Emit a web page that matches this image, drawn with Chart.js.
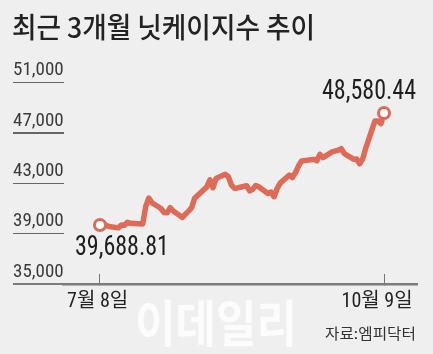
<!DOCTYPE html>
<html>
<head>
<meta charset="utf-8">
<script src="https://cdn.jsdelivr.net/npm/chart.js@4.4.1/dist/chart.umd.min.js"></script>
<style>
html, body { margin: 0; padding: 0; background: #efefef; }
#wrap { position: relative; width: 433px; height: 354px; overflow: hidden; }
#chart { position: absolute; left: 0; top: 0; }
.txt { position: absolute; white-space: nowrap; line-height: 1; transform-origin: 0 0; }
.rule { position: absolute; left: 13px; width: 51px; height: 1.5px; background: #666; }
.rule.base { height: 2.5px; background: #7b7b7b; }
#title { left: 12px; top: 6px; font: 500 28px 'Noto Sans CJK KR', sans-serif; color: #222; }
#mark { left: 135px; top: 284px; font: 700 50px 'Noto Sans CJK KR', sans-serif; color: rgba(255,255,255,0.8); }
#src { right: 17px; top: 322px; font: 400 15px 'Noto Sans CJK KR', sans-serif; color: #333; }
</style>
</head>
<body>
<div id="wrap">
  <canvas id="chart" width="433" height="354"></canvas>
  <div class="txt" id="mark">이데일리</div>
  <div class="txt" id="title">최근 3개월 닛케이지수 추이</div>
  <div class="txt" id="src">자료:엠피닥터</div>
</div>
<script>
const dates = [
'2025-07-08','2025-07-09','2025-07-10','2025-07-11','2025-07-14','2025-07-15','2025-07-16','2025-07-17','2025-07-18',
'2025-07-22','2025-07-23','2025-07-24','2025-07-25','2025-07-28','2025-07-29','2025-07-30','2025-07-31',
'2025-08-01','2025-08-04','2025-08-05','2025-08-06','2025-08-07','2025-08-08','2025-08-12','2025-08-13','2025-08-14','2025-08-15',
'2025-08-18','2025-08-19','2025-08-20','2025-08-21','2025-08-22','2025-08-25','2025-08-26','2025-08-27','2025-08-28','2025-08-29',
'2025-09-01','2025-09-02','2025-09-03','2025-09-04','2025-09-05','2025-09-08','2025-09-09','2025-09-10','2025-09-11','2025-09-12',
'2025-09-16','2025-09-17','2025-09-18','2025-09-19','2025-09-22','2025-09-24','2025-09-25','2025-09-26','2025-09-29','2025-09-30',
'2025-10-01','2025-10-02','2025-10-03','2025-10-06','2025-10-07','2025-10-08','2025-10-09'
];
const closes = [
39688.81,39821,39646,39569,39459,39678,39663,39901,39819,
39774,41171,41826,41456,40998,40674,40654,41069,
40799,40290,40549,40794,41059,41820,42718,43274,42649,43378,
43714,43546,42888,42610,42633,42807,42394,42520,42829,42718,
42188,42310,41938,42580,43018,43643,43459,43837,44372,44768,
44902,44790,45303,45045,45493,45630,45754,45354,44913,44932,
44550,44936,45769,47944,47950,47734,48580.44
];
const yTicks = [35000, 39000, 43000, 47000, 51000];
const xTickDates = ['2025-07-08', '2025-10-09'];
const xTickLabels = ['7월 8일 ', '10월 9일   '];

const day0 = Date.parse(dates[0]);
const toDay = d => Math.round((Date.parse(d) - day0) / 86400000);
const points = dates.map((d, i) => ({ x: toDay(d), y: closes[i] }));
const lastIdx = points.length - 1;

// find a narrow face among the installed fonts (missing ones fall back to monospace and lose)
function pickNarrow() {
  const c = document.createElement('canvas').getContext('2d');
  const opts = [
    ['', "'Liberation Sans Narrow'"], ['', "'Arial Narrow'"], ['', "'Roboto Condensed'"],
    ['condensed', "'Noto Sans'"], ['semi-condensed', "'Noto Sans'"], ['condensed', "'Open Sans'"],
    ['condensed', "'Roboto'"], ['condensed', "'DejaVu Sans'"], ['', "'Liberation Sans'"]
  ];
  let best = opts[opts.length - 1], bestErr = 1e9;
  for (const [st, fam] of opts) {
    c.font = (st ? st + ' ' : '') + '20px ' + fam + ', monospace';
    const r = c.measureText('51,000').width / 20;
    const err = Math.abs(r - 2.56);
    if (err < bestErr) { bestErr = err; best = [st, fam]; }
  }
  return best;
}
const [stretch, narrowFam] = pickNarrow();
const family = narrowFam + ", 'Noto Sans CJK KR', sans-serif";
const red = '#de6a57';

const endLabels = {
  id: 'endLabels',
  afterDatasetsDraw(chart) {
    const meta = chart.getDatasetMeta(0);
    const first = meta.data[0], last = meta.data[lastIdx];
    const fmt = v => v.toLocaleString('en-US', { minimumFractionDigits: 2, maximumFractionDigits: 2 });
    const ctx = chart.ctx;
    ctx.save();
    ctx.font = (stretch ? stretch + ' ' : '') + '28px ' + family;
    ctx.fillStyle = '#1e1e1e';
    ctx.textBaseline = 'middle';
    const a = fmt(closes[0]), b = fmt(closes[lastIdx]);
    const sx = 94 / ctx.measureText(a).width;
    ctx.save();
    ctx.translate(first.x - 25, first.y + 23);
    ctx.scale(sx, 1);
    ctx.textAlign = 'left';
    ctx.fillText(a, 0, 0);
    ctx.restore();
    ctx.translate(last.x + 32, last.y - 21);
    ctx.scale(sx, 1);
    ctx.textAlign = 'right';
    ctx.fillText(b, 0, 0);
    ctx.restore();
  }
};

const chart = new Chart(document.getElementById('chart').getContext('2d'), {
  type: 'line',
  data: {
    datasets: [{
      data: points,
      borderColor: red,
      borderWidth: 5.5,
      borderJoinStyle: 'round',
      borderCapStyle: 'round',
      tension: 0,
      pointRadius: ctx => (ctx.dataIndex === 0 || ctx.dataIndex === lastIdx) ? 5.5 : 0,
      pointBackgroundColor: '#ffffff',
      pointBorderColor: red,
      pointBorderWidth: 3
    }]
  },
  options: {
    responsive: false,
    animation: false,
    layout: { padding: { left: 13, right: 16, top: 70, bottom: 0 } },
    plugins: { legend: { display: false }, tooltip: { enabled: false } },
    scales: {
      x: {
        type: 'linear',
        min: -12.1,
        max: 103.8,
        afterBuildTicks: s => { s.ticks = xTickDates.map(d => ({ value: toDay(d) })); },
        afterFit: s => { s.height = 70; s.paddingLeft = 0; s.paddingRight = 0; },
        border: { display: true, color: '#7b7b7b', width: 2.5 },
        grid: { drawOnChartArea: false, drawTicks: true, tickLength: -10, color: '#777', lineWidth: 1 },
        ticks: {
          padding: 16,
          maxRotation: 0,
          autoSkip: false,
          color: '#222',
          font: { family: family, size: 20, weight: stretch || undefined },
          callback: v => xTickLabels[xTickDates.findIndex(d => toDay(d) === v)]
        }
      },
      y: {
        min: 35000,
        max: 52000,
        afterBuildTicks: s => { s.ticks = yTicks.map(v => ({ value: v })); },
        afterFit: s => { s.width = 50; },
        border: { display: false },
        grid: { display: false },
        ticks: {
          crossAlign: 'far',
          labelOffset: -12,
          padding: 0,
          color: '#3a3a3a',
          font: { family: family, size: 19, weight: stretch || undefined },
          callback: v => v.toLocaleString('en-US')
        }
      }
    }
  },
  plugins: [endLabels]
});

// short rules under the y labels, placed from the y scale
const wrap = document.getElementById('wrap');
const ys = chart.scales.y;
yTicks.forEach((v, i) => {
  const r = document.createElement('div');
  r.className = i === 0 ? 'rule base' : 'rule';
  const h = i === 0 ? 2.5 : 1.5;
  r.style.top = (ys.getPixelForValue(v) - h / 2) + 'px';
  r.style.width = (chart.chartArea.left - 13 + 1) + 'px';
  wrap.appendChild(r);
});

function fitWidth(id, w) {
  const el = document.getElementById(id);
  const r = el.getBoundingClientRect();
  el.style.transform = 'scaleX(' + (w / r.width) + ')';
  if (id === 'src') el.style.transformOrigin = '100% 0';
}
fitWidth('title', 303);
fitWidth('mark', 162);
fitWidth('src', 91);
</script>
</body>
</html>
